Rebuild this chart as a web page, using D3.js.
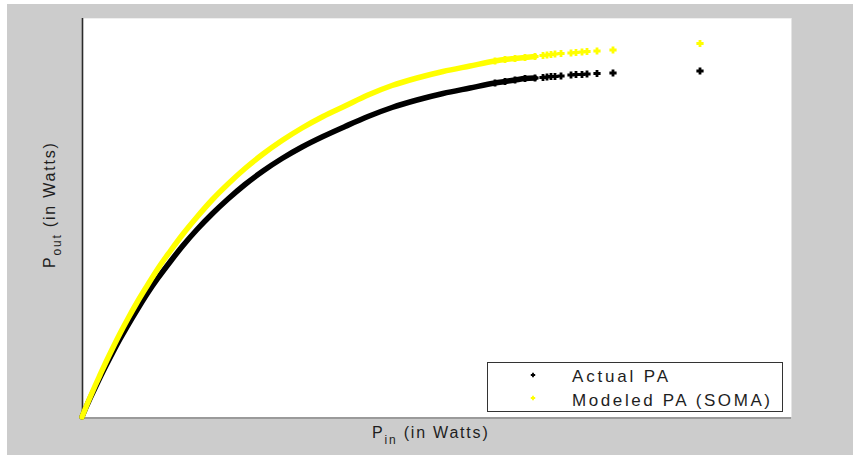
<!DOCTYPE html>
<html>
<head>
<meta charset="utf-8">
<script src="https://cdn.jsdelivr.net/npm/d3@7"></script>
<style>
  html, body { margin: 0; padding: 0; background: #ffffff; }
  svg { display: block; }
</style>
</head>
<body>
<div id="content"></div>
<script>
// Input power (arbitrary watt units, no ticks shown)
const pinWatts = [0, 0.04, 0.08, 0.13, 0.18, 0.24, 0.31, 0.38, 0.46, 0.55, 0.65, 0.76, 0.88, 1.01,
  1.15, 1.30, 1.46, 1.63, 1.81, 2.00, 2.20, 2.41, 2.63, 2.86, 3.10, 3.35, 3.61, 3.88, 4.13,
  4.23, 4.33, 4.43, 4.53, 4.61, 4.65, 4.69, 4.73, 4.79, 4.89, 4.94, 5.00, 5.05, 5.15, 5.31, 6.18];
// Output power of the measured amplifier
const actualPA = [0, 0.095, 0.185, 0.29, 0.395, 0.515, 0.65, 0.78, 0.92, 1.07, 1.23, 1.39, 1.55, 1.715,
  1.875, 2.03, 2.18, 2.325, 2.46, 2.585, 2.70, 2.805, 2.905, 3.005, 3.095, 3.17, 3.235, 3.29, 3.34,
  3.355, 3.37, 3.385, 3.39, 3.395, 3.40, 3.405, 3.405, 3.41, 3.42, 3.425, 3.425, 3.43, 3.435, 3.44, 3.46];
// Output power of the SOMA model
const modeledPA = [0, 0.10, 0.195, 0.31, 0.42, 0.55, 0.695, 0.835, 0.985, 1.145, 1.31, 1.485, 1.655, 1.83,
  2.00, 2.17, 2.33, 2.485, 2.63, 2.765, 2.89, 3.005, 3.11, 3.22, 3.315, 3.39, 3.455, 3.51, 3.56,
  3.575, 3.585, 3.595, 3.605, 3.615, 3.62, 3.625, 3.63, 3.635, 3.64, 3.645, 3.65, 3.655, 3.66, 3.67, 3.735];
const seriesNames = ["Actual PA", "Modeled PA (SOMA)"];
const seriesColors = ["#000000", "#ffff00"];

const WIDTH = 853;
const HEIGHT = 455;
const plot = {left: 82, top: 18, right: 791, bottom: 417};
// below this input the samples are so dense they merge into a thick line
const DENSE_LIMIT = 4.55;

let svg = d3.select("#content").append("svg")
  .attr("width", WIDTH)
  .attr("height", HEIGHT);

svg.append("rect").attr("width", WIDTH).attr("height", HEIGHT).attr("fill", "#ffffff");
svg.append("rect")
  .attr("x", 7).attr("y", 4)
  .attr("width", WIDTH - 7).attr("height", HEIGHT - 4)
  .attr("fill", "#cccccc");

let x = d3.scaleLinear().domain([0, 7.09]).range([plot.left, plot.right]);
let y = d3.scaleLinear().domain([0, 3.99]).range([plot.bottom, plot.top]);

// axes box
svg.append("rect")
  .attr("x", plot.left).attr("y", plot.top)
  .attr("width", plot.right - plot.left).attr("height", plot.bottom - plot.top)
  .attr("fill", "#ffffff");
svg.append("line")
  .attr("x1", plot.left).attr("x2", plot.right)
  .attr("y1", plot.bottom + 1).attr("y2", plot.bottom + 1)
  .attr("stroke", "#9a9a9a").attr("stroke-width", 2);
svg.append("line")
  .attr("x1", plot.right + 0.5).attr("x2", plot.right + 0.5)
  .attr("y1", plot.top).attr("y2", plot.bottom)
  .attr("stroke", "#e4e4e4").attr("stroke-width", 1);
svg.append("line")
  .attr("x1", plot.left).attr("x2", plot.right)
  .attr("y1", plot.top + 0.5).attr("y2", plot.top + 0.5)
  .attr("stroke", "#efefef").attr("stroke-width", 1);
svg.append("line")
  .attr("x1", plot.left + 0.5).attr("x2", plot.left + 0.5)
  .attr("y1", plot.top).attr("y2", plot.bottom + 1)
  .attr("stroke", "#2b2b2b").attr("stroke-width", 1.6);

let plusPath = function (r) {
  return `M${-r},0H${r}M0,${-r}V${r}`;
};

let drawSeries = function (values, color) {
  let pts = pinWatts.map((p, i) => [p, values[i]]);
  let g = svg.append("g");
  let line = d3.line().x(d => x(d[0])).y(d => y(d[1])).curve(d3.curveMonotoneX);
  g.append("path")
    .datum(pts.filter(d => d[0] <= DENSE_LIMIT))
    .attr("d", line)
    .attr("fill", "none")
    .attr("stroke", color)
    .attr("stroke-width", 5.5)
    .attr("stroke-linecap", "round")
    .attr("stroke-linejoin", "round");
  g.selectAll("path.mark")
    .data(pts.filter(d => d[0] > 4.0))
    .join("path")
    .attr("class", "mark")
    .attr("transform", d => `translate(${x(d[0])},${y(d[1])})`)
    .attr("d", plusPath(3.6))
    .attr("stroke", color)
    .attr("stroke-width", 2.8)
    .attr("fill", "none");
};

drawSeries(actualPA, seriesColors[0]);
drawSeries(modeledPA, seriesColors[1]);

// axis labels
let xlab = svg.append("text")
  .attr("x", 372).attr("y", 438)
  .attr("font-family", "'Liberation Sans', Arial, sans-serif")
  .attr("font-size", 16)
  .attr("letter-spacing", 1.8)
  .attr("fill", "#1e1e1e");
xlab.append("tspan").text("P");
xlab.append("tspan").attr("font-size", 12).attr("dy", 6).text("in");
xlab.append("tspan").attr("dy", -6).text(" (in Watts)");

let ylab = svg.append("text")
  .attr("transform", "translate(55,268) rotate(-90)")
  .attr("font-family", "'Liberation Sans', Arial, sans-serif")
  .attr("font-size", 16)
  .attr("letter-spacing", 1.8)
  .attr("fill", "#1e1e1e");
ylab.append("tspan").text("P");
ylab.append("tspan").attr("font-size", 12).attr("dy", 6).text("out");
ylab.append("tspan").attr("dy", -6).text(" (in Watts)");

// legend
let legend = svg.append("g");
legend.append("rect")
  .attr("x", 487.5).attr("y", 362.5)
  .attr("width", 295).attr("height", 49)
  .attr("fill", "#ffffff")
  .attr("stroke", "#333333")
  .attr("stroke-width", 1);
let legendWidths = [96, 198];
seriesNames.forEach((name, i) => {
  legend.append("path")
    .attr("transform", `translate(533,${375 + i * 23})`)
    .attr("d", plusPath(2.2))
    .attr("stroke", seriesColors[i])
    .attr("stroke-width", 1.8);
  legend.append("text")
    .attr("x", 572).attr("y", 382 + i * 23.5)
    .attr("font-family", "'Liberation Sans', Arial, sans-serif")
    .attr("font-size", 17)
    .attr("textLength", legendWidths[i])
    .attr("lengthAdjust", "spacing")
    .attr("fill", "#1e1e1e")
    .text(name);
});
</script>
</body>
</html>
